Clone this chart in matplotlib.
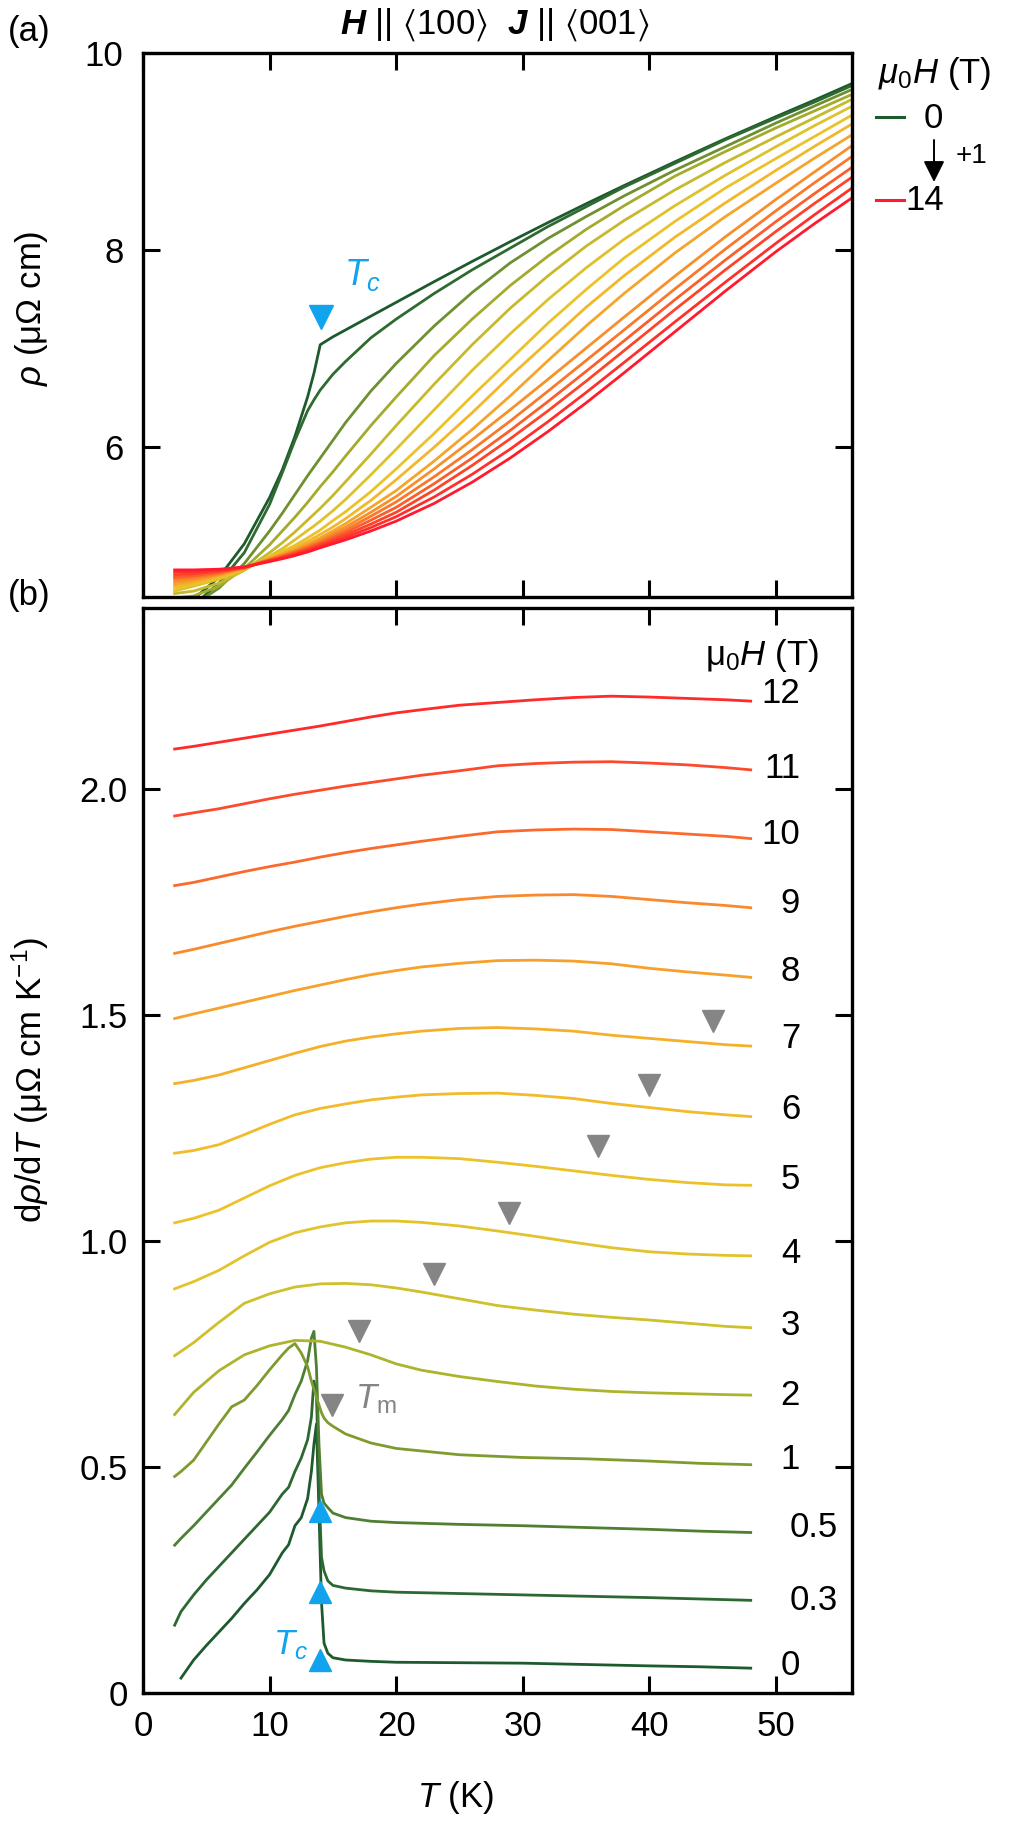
import numpy as np
import matplotlib
matplotlib.use('Agg')
import matplotlib.pyplot as plt
from matplotlib.lines import Line2D
from matplotlib.patches import FancyArrowPatch

plt.rcParams['font.family'] = ['Liberation Sans', 'DejaVu Sans']
plt.rcParams['mathtext.fontset'] = 'custom'
plt.rcParams['mathtext.rm'] = 'Liberation Sans'
plt.rcParams['mathtext.it'] = 'Liberation Sans:italic'
plt.rcParams['mathtext.bf'] = 'Liberation Sans:bold'
plt.rcParams['mathtext.bfit'] = 'Liberation Sans:italic:bold'
plt.rcParams['mathtext.fallback'] = 'stixsans'

# ---------------- panel (a): rho(T) for mu0H = 0 ... 14 T ----------------
T_a = [2.5, 4, 6, 8, 10, 11, 12, 13, 13.5, 14, 15, 16, 18, 20, 23, 26, 29, 32,
       35, 38, 42, 46, 50, 53, 56]
rho_00 = [4.37, 4.46, 4.68, 5.02, 5.49, 5.77, 6.11, 6.51, 6.75, 7.04, 7.12, 7.19, 7.33, 7.47,
          7.68, 7.885, 8.085, 8.28, 8.47, 8.655, 8.895, 9.13, 9.355, 9.52, 9.69]
rho_01 = [4.30, 4.40, 4.62, 4.93, 5.42, 5.74, 6.07, 6.37, 6.48, 6.58, 6.74, 6.87, 7.11, 7.30,
          7.56, 7.80, 8.02, 8.24, 8.44, 8.64, 8.88, 9.12, 9.34, 9.50, 9.67]
rho_02 = [4.32, 4.40, 4.57, 4.82, 5.15, 5.33, 5.52, 5.71, 5.80, 5.89, 6.07, 6.25, 6.57, 6.85,
          7.23, 7.57, 7.87, 8.12, 8.34, 8.55, 8.81, 9.05, 9.29, 9.46, 9.63]
rho_03 = [4.47, 4.49, 4.59, 4.77, 5.01, 5.15, 5.29, 5.44, 5.52, 5.60, 5.75, 5.91, 6.22, 6.51,
          6.93, 7.30, 7.64, 7.94, 8.21, 8.45, 8.75, 9.00, 9.24, 9.41, 9.58]
rho_04 = [4.515, 4.54, 4.62, 4.75, 4.93, 5.03, 5.14, 5.26, 5.32, 5.38, 5.51, 5.65, 5.93, 6.22,
          6.64, 7.04, 7.41, 7.74, 8.04, 8.30, 8.61, 8.89, 9.15, 9.34, 9.53]
rho_05 = [4.54, 4.59, 4.66, 4.755, 4.895, 4.97, 5.06, 5.155, 5.20, 5.25, 5.355, 5.47, 5.72, 5.98,
          6.38, 6.78, 7.15, 7.50, 7.82, 8.11, 8.45, 8.76, 9.05, 9.26, 9.46]
rho_06 = [4.565, 4.61, 4.68, 4.76, 4.885, 4.94, 5.005, 5.08, 5.12, 5.16, 5.255, 5.345, 5.55, 5.78,
          6.14, 6.52, 6.89, 7.26, 7.60, 7.92, 8.29, 8.63, 8.93, 9.15, 9.37]
rho_07 = [4.59, 4.625, 4.69, 4.765, 4.878, 4.925, 4.98, 5.045, 5.08, 5.115, 5.19, 5.275, 5.46, 5.67,
          6.00, 6.35, 6.72, 7.07, 7.42, 7.74, 8.13, 8.48, 8.81, 9.05, 9.28]
rho_08 = [4.61, 4.64, 4.70, 4.77, 4.872, 4.915, 4.962, 5.018, 5.048, 5.08, 5.15, 5.225, 5.39, 5.56,
          5.86, 6.18, 6.52, 6.88, 7.23, 7.56, 7.97, 8.34, 8.68, 8.93, 9.17]
rho_09 = [4.635, 4.66, 4.71, 4.775, 4.866, 4.905, 4.95, 5.00, 5.028, 5.058, 5.122, 5.19, 5.34, 5.50,
          5.78, 6.075, 6.38, 6.69, 7.005, 7.32, 7.735, 8.135, 8.515, 8.79, 9.06]
rho_10 = [4.66, 4.68, 4.72, 4.777, 4.86, 4.897, 4.94, 4.988, 5.013, 5.04, 5.10, 5.16, 5.30, 5.445,
          5.70, 5.975, 6.265, 6.57, 6.88, 7.19, 7.605, 8.01, 8.40, 8.68, 8.95]
rho_11 = [4.68, 4.695, 4.73, 4.779, 4.855, 4.89, 4.93, 4.976, 5.00, 5.025, 5.08, 5.135, 5.26, 5.39,
          5.63, 5.89, 6.17, 6.465, 6.77, 7.08, 7.495, 7.90, 8.29, 8.57, 8.84]
rho_12 = [4.705, 4.715, 4.74, 4.781, 4.85, 4.883, 4.92, 4.963, 4.986, 5.01, 5.06, 5.11, 5.22, 5.34,
          5.565, 5.815, 6.085, 6.37, 6.67, 6.98, 7.395, 7.80, 8.19, 8.47, 8.74]
rho_13 = [4.73, 4.735, 4.75, 4.783, 4.845, 4.876, 4.91, 4.95, 4.972, 4.995, 5.04, 5.085, 5.185, 5.295,
          5.495, 5.725, 5.98, 6.26, 6.555, 6.86, 7.27, 7.675, 8.07, 8.355, 8.63]
rho_14 = [4.755, 4.755, 4.762, 4.785, 4.84, 4.868, 4.90, 4.937, 4.958, 4.98, 5.02, 5.06, 5.15, 5.25,
          5.43, 5.645, 5.89, 6.16, 6.45, 6.755, 7.17, 7.585, 7.985, 8.265, 8.53]
curves_a = [rho_00, rho_01, rho_02, rho_03, rho_04, rho_05, rho_06, rho_07,
            rho_08, rho_09, rho_10, rho_11, rho_12, rho_13, rho_14]
colors_a = ['#1d5a2d', '#2f6a30', '#6f9030', '#a3ab2c', '#c6b92c', '#dfc12c', '#ecc22a',
            '#f2b72a', '#f5a52a', '#f7902a', '#f9782a', '#fb5e2a', '#fd442a', '#fe302c', '#ff1a2e']
Tc_a = (14.05, 7.32)

# ---------------- panel (b): d rho / dT, curves offset ----------------
T_b_low = [2.5, 3, 4, 5, 6, 7, 8, 9, 10, 11, 11.5, 12, 12.5, 13, 13.3, 13.5, 13.7, 13.9,
           14.1, 14.3, 14.6, 15, 16, 18, 20, 25, 30, 35, 40, 44, 48]
d_0 = [np.nan, 0.033, 0.073, 0.105, 0.135, 0.165, 0.198, 0.228, 0.262, 0.310, 0.328, 0.370,
       0.388, 0.430, 0.490, 0.550, 0.595, 0.400, 0.200, 0.110, 0.088, 0.078, 0.073, 0.070,
       0.068, 0.067, 0.066, 0.063, 0.060, 0.058, 0.055]
d_03 = [0.150, 0.180, 0.217, 0.250, 0.280, 0.310, 0.340, 0.370, 0.400, 0.440, 0.455, 0.490,
        0.520, 0.560, 0.610, 0.690, 0.660, 0.450, 0.300, 0.270, 0.248, 0.238, 0.232, 0.226,
        0.223, 0.220, 0.217, 0.214, 0.211, 0.208, 0.205]
d_05 = [0.327, 0.342, 0.370, 0.400, 0.430, 0.460, 0.497, 0.533, 0.570, 0.605, 0.625, 0.660,
        0.690, 0.735, 0.785, 0.800, 0.720, 0.550, 0.440, 0.420, 0.410, 0.398, 0.388, 0.380,
        0.377, 0.373, 0.370, 0.366, 0.362, 0.358, 0.355]
d_1 = [0.479, 0.490, 0.515, 0.555, 0.595, 0.633, 0.648, 0.680, 0.715, 0.748, 0.763, 0.773,
       0.752, 0.722, 0.690, 0.672, 0.655, 0.637, 0.620, 0.608, 0.598, 0.590, 0.573, 0.553,
       0.541, 0.527, 0.521, 0.518, 0.513, 0.508, 0.505]

T_b = [2.5, 4, 6, 8, 10, 12, 14, 16, 18, 20, 22, 25, 28, 31, 34, 37, 40, 43, 46, 48]
d_2 = [0.616, 0.665, 0.713, 0.748, 0.768, 0.780, 0.778, 0.765, 0.748, 0.728, 0.714, 0.700,
       0.689, 0.679, 0.672, 0.667, 0.664, 0.662, 0.660, 0.659]
d_3 = [0.746, 0.775, 0.820, 0.862, 0.883, 0.898, 0.905, 0.906, 0.903, 0.896, 0.887, 0.872,
       0.857, 0.847, 0.838, 0.831, 0.825, 0.818, 0.811, 0.808]
d_4 = [0.894, 0.910, 0.935, 0.967, 0.997, 1.018, 1.031, 1.040, 1.044, 1.044, 1.041, 1.033,
       1.022, 1.010, 0.997, 0.985, 0.976, 0.971, 0.968, 0.967]
d_5 = [1.040, 1.050, 1.068, 1.095, 1.122, 1.145, 1.162, 1.173, 1.181, 1.185, 1.185, 1.182,
       1.174, 1.165, 1.155, 1.145, 1.136, 1.129, 1.124, 1.123]
d_6 = [1.194, 1.200, 1.213, 1.235, 1.258, 1.279, 1.293, 1.303, 1.312, 1.318, 1.323, 1.326,
       1.327, 1.322, 1.315, 1.304, 1.295, 1.286, 1.279, 1.275]
d_7 = [1.348, 1.355, 1.367, 1.383, 1.399, 1.415, 1.430, 1.442, 1.451, 1.458, 1.464, 1.470,
       1.472, 1.469, 1.464, 1.455, 1.448, 1.441, 1.434, 1.431]
d_8 = [1.492, 1.502, 1.515, 1.528, 1.541, 1.554, 1.566, 1.578, 1.589, 1.598, 1.606, 1.614,
       1.620, 1.621, 1.619, 1.613, 1.603, 1.595, 1.588, 1.583]
d_9 = [1.636, 1.645, 1.658, 1.671, 1.684, 1.696, 1.707, 1.718, 1.728, 1.737, 1.745, 1.755,
       1.762, 1.765, 1.766, 1.762, 1.755, 1.748, 1.742, 1.737]
d_10 = [1.786, 1.793, 1.805, 1.817, 1.828, 1.838, 1.849, 1.859, 1.868, 1.876, 1.884, 1.895,
        1.905, 1.909, 1.911, 1.910, 1.905, 1.900, 1.895, 1.890]
d_11 = [1.940, 1.947, 1.956, 1.967, 1.978, 1.988, 1.997, 2.006, 2.014, 2.022, 2.030, 2.040,
        2.051, 2.056, 2.059, 2.060, 2.057, 2.053, 2.047, 2.042]
d_12 = [2.088, 2.094, 2.103, 2.112, 2.121, 2.130, 2.139, 2.149, 2.159, 2.168, 2.175, 2.185,
        2.191, 2.197, 2.202, 2.205, 2.203, 2.200, 2.197, 2.194]

curves_b = [(T_b_low, d_0), (T_b_low, d_03), (T_b_low, d_05), (T_b_low, d_1),
            (T_b, d_2), (T_b, d_3), (T_b, d_4), (T_b, d_5), (T_b, d_6), (T_b, d_7),
            (T_b, d_8), (T_b, d_9), (T_b, d_10), (T_b, d_11), (T_b, d_12)]
labels_b = ['0', '0.3', '0.5', '1', '2', '3', '4', '5', '6', '7', '8', '9', '10', '11', '12']
label_y = [0.06, 0.205, 0.366, 0.517, 0.658, 0.812, 0.973, 1.135, 1.29, 1.448, 1.596,
           1.746, 1.898, 2.044, 2.21]
colors_b = ['#1d5a2d', '#2d6731', '#4f7f32', '#7f9b2e', '#adb42c', '#cfc02c', '#e2c32c',
            '#ecc22a', '#f2bb2a', '#f5b02a', '#f7a02a', '#f98a2c', '#fb6a2c', '#fd4a2c', '#ff2a2a']

Tm_T = [14.95, 17.06, 23.0, 28.9, 35.9, 40.0, 45.0]
Tm_val = [0.637, 0.80, 0.927, 1.061, 1.210, 1.344, 1.487]
Tc_b_T = [14.0, 14.0, 14.0]
Tc_b_val = [0.073, 0.223, 0.402]

BLUE = '#12a3ee'
GRAY = '#858585'

W, H = 1021, 1830
def fx(p):
    return p / W
def fy(p):
    return 1 - p / H

fig = plt.figure(figsize=(W / 100, H / 100), dpi=100)
ax_a = fig.add_axes([fx(143), fy(597), 709 / W, 544 / H])
ax_b = fig.add_axes([fx(143), fy(1693), 709 / W, 1085 / H])

for ax in (ax_a, ax_b):
    ax.tick_params(direction='in', length=12, width=2.2, top=True, right=True,
                   labelsize=25)
    for s in ax.spines.values():
        s.set_linewidth(2.4)
    ax.set_xlim(0, 56)
    ax.set_xticks([0, 10, 20, 30, 40, 50])

# panel (a)
for rho, c in zip(curves_a, colors_a):
    ax_a.plot(T_a, rho, color=c, lw=2.0, solid_joinstyle='round')
ax_a.plot([Tc_a[0]], [Tc_a[1]], 'v', color=BLUE, ms=17)
ax_a.text(15.9, 7.75, r'$T_c$', color=BLUE, fontsize=26, ha='left', va='center')
ax_a.set_ylim(4.48, 10)
ax_a.set_yticks([6, 8, 10])
ax_a.tick_params(axis='y', pad=14)
ax_a.tick_params(labelbottom=False)

# panel (b)
for (tt, dd), c in zip(curves_b, colors_b):
    ax_b.plot(tt, dd, color=c, lw=2.0, solid_joinstyle='round')
for lab, yy in zip(labels_b, label_y):
    xx = 54.9 if '.' in lab else 51.9
    ax_b.text(xx, yy, lab, fontsize=25, ha='right', va='center')
ax_b.plot(Tm_T, Tm_val, 'v', color=GRAY, ms=16.5, ls='none')
ax_b.plot(Tc_b_T, Tc_b_val, '^', color=BLUE, ms=16.5, ls='none')
ax_b.text(16.75, 0.651, r'$T_\mathrm{m}$', color=GRAY, fontsize=25, ha='left', va='center')
ax_b.text(10.24, 0.106, r'$T_c$', color=BLUE, fontsize=25, ha='left', va='center')
ax_b.text(44.4, 2.295, r'μ$_0$$H$ (T)', fontsize=25, ha='left', va='center')
ax_b.set_ylim(0, 2.4)
ax_b.set_yticks([0, 0.5, 1.0, 1.5, 2.0])
ax_b.set_yticklabels(['0', '0.5', '1.0', '1.5', '2.0'])
ax_b.tick_params(axis='y', pad=11)
ax_b.tick_params(axis='x', pad=12)

# outer labels
fig.text(fx(8), fy(32), '(a)', fontsize=25, ha='left', va='center')
fig.text(fx(8), fy(595), '(b)', fontsize=25, ha='left', va='center')
fig.text(fx(495), fy(25), r'$\mathbfit{H}$ || $\langle$100$\rangle$  $\mathbfit{J}$ || $\langle$001$\rangle$',
         fontsize=25, ha='center', va='center')
fig.text(fx(32), fy(308), r'$\rho$ (μΩ cm)', fontsize=25, rotation=90,
         ha='center', va='center')
fig.text(fx(30), fy(1080), r'd$\rho$/d$T$ (μΩ cm K$^{-1}$)', fontsize=25, rotation=90,
         ha='center', va='center')
fig.text(fx(456), fy(1797), r'$T$ (K)', fontsize=25, ha='center', va='center')

# field legend of panel (a)
fig.text(fx(878), fy(73), r'$\mu_0H$ (T)', fontsize=25, ha='left', va='center')
fig.add_artist(Line2D([fx(876), fx(904)], [fy(117), fy(117)], color=colors_a[0], lw=2.2))
fig.text(fx(924), fy(118), '0', fontsize=25, ha='left', va='center')
fig.add_artist(FancyArrowPatch((fx(934), fy(140)), (fx(934), fy(182)),
                               transform=fig.transFigure, arrowstyle='-|>',
                               mutation_scale=32, lw=1.4, color='k',
                               shrinkA=0, shrinkB=0))
fig.text(fx(956), fy(156), '+1', fontsize=20, ha='left', va='center')
fig.add_artist(Line2D([fx(876), fx(904)], [fy(200), fy(200)], color=colors_a[-1], lw=2.2))
fig.text(fx(905), fy(200), '14', fontsize=25, ha='left', va='center')

fig.savefig('out.png', dpi=100)
